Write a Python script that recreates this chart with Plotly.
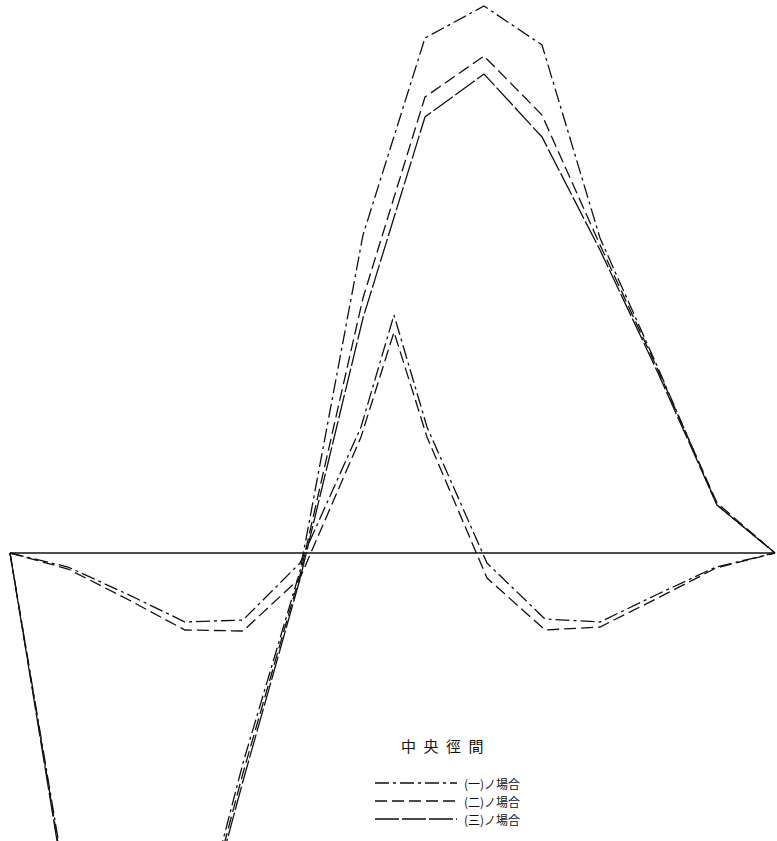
import plotly.graph_objects as go

# Stations along the girder (horizontal position units)
x_main = [10, 68, 127, 186, 243, 300, 363, 425, 484, 542, 600, 658, 717, 775]
x_side = [10, 68, 127, 185, 243, 300, 361, 394, 427, 487, 545, 600, 658, 716, 775]

# Ordinates of the three load cases (upward positive)
case_1 = [0, -345, -600, -430, -210, -18, 318, 515, 547, 508, 315, 185, 48, 0]
case_2 = [0, -350, -600, -435, -220, -22, 255, 456, 497, 438, 308, 183, 50, 0]
case_3 = [0, -355, -600, -440, -228, -26, 235, 436, 479, 416, 303, 180, 48, 0]

# Secondary ordinates (smaller curves)
side_a = [0, -14, -41, -69, -67, -10, 126, 238, 126, -10, -66, -69, -41, -14, 0]
side_b = [0, -16, -46, -77, -78, -25, 116, 221, 116, -25, -77, -74, -45, -15, 0]

base_x = [10, 775]
base_y = [0, 0]

legend_title = "\u2002".join("中央徑間")
legend_labels = ["(一)ノ場合", "(二)ノ場合", "(三)ノ場合"]
dash_styles = ["14px,4px,3px,4px", "12px,5px", "24px,3px"]

ink = "#111111"
fig = go.Figure()

fig.add_trace(go.Scatter(x=base_x, y=base_y, mode="lines",
                         line=dict(color=ink, width=1.4), hoverinfo="skip"))

for ys, dash in zip([case_1, case_2, case_3], dash_styles):
    fig.add_trace(go.Scatter(x=x_main, y=ys, mode="lines",
                             line=dict(color=ink, width=1.3, dash=dash)))

fig.add_trace(go.Scatter(x=x_side, y=side_a, mode="lines",
                         line=dict(color=ink, width=1.3, dash=dash_styles[0])))
fig.add_trace(go.Scatter(x=x_side, y=side_b, mode="lines",
                         line=dict(color=ink, width=1.3, dash=dash_styles[1])))

# Hand-drawn style key in the lower right
shapes = []
annotations = [dict(x=442, y=-192, xref="x", yref="y", text=legend_title,
                    showarrow=False, font=dict(size=15, color=ink,
                                               family="Noto Sans CJK JP"))]
for i, (lab, dash) in enumerate(zip(legend_labels, dash_styles)):
    yy = -230 - 18 * i
    shapes.append(dict(type="line", xref="x", yref="y", x0=375, x1=457,
                       y0=yy, y1=yy, line=dict(color=ink, width=1.3, dash=dash)))
    annotations.append(dict(x=462, y=yy, xref="x", yref="y", text=lab,
                            showarrow=False, xanchor="left",
                            font=dict(size=12, color=ink,
                                      family="Noto Sans CJK JP")))

fig.update_layout(
    width=777, height=841, autosize=False,
    margin=dict(l=0, r=0, t=0, b=0),
    paper_bgcolor="white", plot_bgcolor="white",
    showlegend=False,
    xaxis=dict(range=[0, 777], visible=False, fixedrange=True),
    yaxis=dict(range=[-288, 553], visible=False, fixedrange=True),
    shapes=shapes, annotations=annotations,
)

fig.write_html("out.html")
